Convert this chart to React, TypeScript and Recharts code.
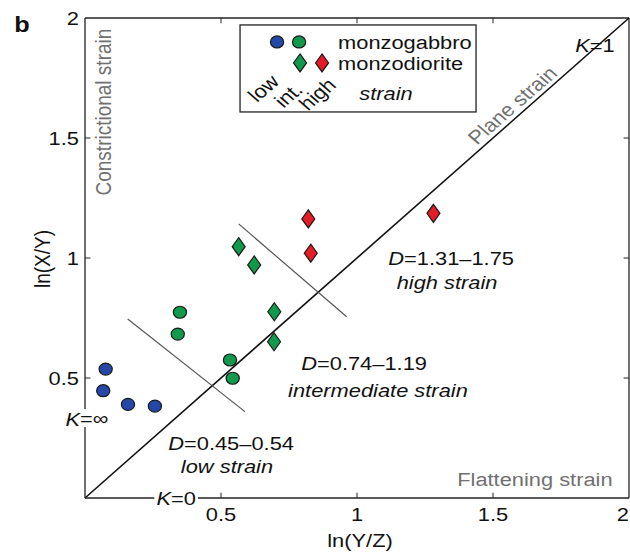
import React from "react";
import {
  ScatterChart,
  Scatter,
  XAxis,
  YAxis,
  ReferenceLine,
  ReferenceDot,
} from "recharts";

// ln(Y/Z) = x, ln(X/Y) = y
const lowGabbro = [
  { x: 0.076, y: 0.537 },
  { x: 0.067, y: 0.447 },
  { x: 0.158, y: 0.39 },
  { x: 0.257, y: 0.383 },
];
const intGabbro = [
  { x: 0.349, y: 0.774 },
  { x: 0.341, y: 0.683 },
  { x: 0.533, y: 0.575 },
  { x: 0.543, y: 0.499 },
];
const intDiorite = [
  { x: 0.565, y: 1.047 },
  { x: 0.622, y: 0.971 },
  { x: 0.696, y: 0.776 },
  { x: 0.695, y: 0.651 },
];
const highDiorite = [
  { x: 0.821, y: 1.163 },
  { x: 0.83, y: 1.02 },
  { x: 1.281, y: 1.186 },
];

const planeStrain = [
  { x: 0, y: 0 },
  { x: 2, y: 2 },
];
const lowCut = [
  { x: 0.157, y: 0.746 },
  { x: 0.588, y: 0.36 },
];
const highCut = [
  { x: 0.565, y: 1.142 },
  { x: 0.962, y: 0.755 },
];

const xTicks = [0.5, 1, 1.5, 2];
const yTicks = [0.5, 1, 1.5, 2];
const frameTicks = [0.5, 1, 1.5];

const BLUE = "#2447a8";
const GREEN = "#129a4c";
const RED = "#e41c26";
const GRAY = "#707070";
const FONT = "'Liberation Sans', Arial, Helvetica, sans-serif";
const SX = 1.15; // the figure is a bit wider than tall

type Note = {
  x: number;
  y: number;
  lead?: string;
  text: string;
  italic?: boolean;
  rot?: number;
  gray?: boolean;
  bg?: number;
  bold?: boolean;
  size?: number;
};

const notes: Note[] = [
  { x: 0.066, y: 1.608, text: "Constrictional strain", rot: -90, gray: true },
  { x: 1.57, y: 1.6375, text: "Plane strain", rot: -45, gray: true },
  { x: 1.875, y: 1.8875, lead: "K", text: "=1" },
  { x: 1.654, y: 0.079, text: "Flattening strain", gray: true },
  { x: 0.007, y: 0.333, lead: "K", text: "=\u221e", bg: 40 },
  { x: 0.335, y: 0, lead: "K", text: "=0", bg: 38 },
  { x: 0.537, y: 0.229, lead: "D", text: "=0.45\u20130.54" },
  { x: 0.522, y: 0.133, text: "low strain", italic: true },
  { x: 1.026, y: 0.5625, lead: "D", text: "=0.74\u20131.19" },
  { x: 1.077, y: 0.45, text: "intermediate strain", italic: true },
  { x: 1.346, y: 1.0, lead: "D", text: "=1.31\u20131.75" },
  { x: 1.331, y: 0.9, text: "high strain", italic: true },
  { x: -0.158, y: 0.996, text: "ln(X/Y)", rot: -90 },
  { x: 1.011, y: -0.175, text: "ln(Y/Z)" },
  { x: -0.232, y: 1.971, text: "b", bold: true, size: 22 },
];

function Txt({ x, y, rot = 0, fill = "#111", size = 19, anchor = "middle", italic = false, bold = false, bg = 0, children }: any) {
  return (
    <g transform={`translate(${x},${y}) scale(${SX},1) rotate(${rot})`}>
      {bg > 0 && <rect x={-bg / 2} y={-9} width={bg} height={18} fill="#fff" />}
      <text
        x={0}
        y={0}
        textAnchor={anchor}
        dominantBaseline="central"
        fontSize={size}
        fontFamily={FONT}
        fontStyle={italic ? "italic" : "normal"}
        fontWeight={bold ? "bold" : "normal"}
        fill={fill}
      >
        {children}
      </text>
    </g>
  );
}

const fmt = (v: number) => String(v);

function Dot({ cx, cy, fill }: any) {
  return <ellipse cx={cx} cy={cy} rx={6.6} ry={6} fill={fill} stroke="#1a1a1a" strokeWidth={1.2} />;
}

function Diamond({ cx, cy, fill }: any) {
  return (
    <path
      d={`M${cx},${cy - 9} L${cx + 6.5},${cy} L${cx},${cy + 9} L${cx - 6.5},${cy} Z`}
      fill={fill}
      stroke="#1a1a1a"
      strokeWidth={1.2}
    />
  );
}

function LegendBox({ cx, cy }: any) {
  const x = cx;
  const y = cy;
  return (
    <g>
      <rect x={x} y={y} width={236} height={87} fill="#fff" stroke="#222" strokeWidth={1.3} />
      <Dot cx={x + 37} cy={y + 17} fill={BLUE} />
      <Dot cx={x + 59} cy={y + 17} fill={GREEN} />
      <Diamond cx={x + 60} cy={y + 38} fill={GREEN} />
      <Diamond cx={x + 82} cy={y + 38} fill={RED} />
      <Txt x={x + 98} y={y + 17} anchor="start">monzogabbro</Txt>
      <Txt x={x + 98} y={y + 38} anchor="start">monzodiorite</Txt>
      <Txt x={x + 23} y={y + 63} rot={-45}>low</Txt>
      <Txt x={x + 48} y={y + 70} rot={-45}>int.</Txt>
      <Txt x={x + 77} y={y + 69} rot={-45}>high</Txt>
      <Txt x={x + 146} y={y + 68} italic>strain</Txt>
    </g>
  );
}

export default function App() {
  return (
    <div style={{ position: "absolute", left: 0, top: 0, background: "#fff" }}>
      <ScatterChart width={630} height={552} margin={{ top: 18, right: 1, bottom: 0, left: 0 }}>
        <XAxis
          type="number"
          dataKey="x"
          domain={[0, 2]}
          ticks={xTicks}
          interval={0}
          allowDataOverflow
          tickLine={false}
          tickSize={0}
          tickMargin={16}
          height={54}
          axisLine={{ stroke: "#222", strokeWidth: 1.3 }}
          tick={(p: any) => (
            <Txt x={p.x} y={p.y} anchor={p.payload.value === 2 ? "end" : "middle"}>
              {fmt(p.payload.value)}
            </Txt>
          )}
        />
        <YAxis
          type="number"
          dataKey="y"
          domain={[0, 2]}
          ticks={yTicks}
          interval={0}
          allowDataOverflow
          tickLine={false}
          tickSize={0}
          tickMargin={6}
          width={85}
          axisLine={{ stroke: "#222", strokeWidth: 1.3 }}
          tick={(p: any) => <Txt x={p.x} y={p.y} anchor="end">{fmt(p.payload.value)}</Txt>}
        />
        <ReferenceLine y={2} stroke="#222" strokeWidth={1.3} />
        <ReferenceLine x={2} stroke="#222" strokeWidth={1.3} />
        {frameTicks.map((t) => (
          <ReferenceLine key={"b" + t} segment={[{ x: t, y: 0 }, { x: t, y: 0.022 }]} stroke="#222" />
        ))}
        {frameTicks.map((t) => (
          <ReferenceLine key={"t" + t} segment={[{ x: t, y: 2 }, { x: t, y: 1.978 }]} stroke="#222" />
        ))}
        {frameTicks.map((t) => (
          <ReferenceLine key={"l" + t} segment={[{ x: 0, y: t }, { x: 0.02, y: t }]} stroke="#222" />
        ))}
        {frameTicks.map((t) => (
          <ReferenceLine key={"r" + t} segment={[{ x: 2, y: t }, { x: 1.98, y: t }]} stroke="#222" />
        ))}
        <ReferenceLine segment={planeStrain} stroke="#111" strokeWidth={1.6} />
        <ReferenceLine segment={lowCut} stroke="#555" strokeWidth={1.2} />
        <ReferenceLine segment={highCut} stroke="#555" strokeWidth={1.2} />
        <Scatter data={lowGabbro} isAnimationActive={false} shape={(p: any) => <Dot {...p} fill={BLUE} />} />
        <Scatter data={intGabbro} isAnimationActive={false} shape={(p: any) => <Dot {...p} fill={GREEN} />} />
        <Scatter data={intDiorite} isAnimationActive={false} shape={(p: any) => <Diamond {...p} fill={GREEN} />} />
        <Scatter data={highDiorite} isAnimationActive={false} shape={(p: any) => <Diamond {...p} fill={RED} />} />
        {notes.map((n, i) => (
          <ReferenceDot
            key={i}
            x={n.x}
            y={n.y}
            r={0}
            ifOverflow="visible"
            shape={(p: any) => (
              <Txt
                x={p.cx}
                y={p.cy}
                rot={n.rot || 0}
                fill={n.gray ? GRAY : "#111"}
                italic={n.italic}
                bold={n.bold}
                bg={n.bg || 0}
                size={n.size || 19}
              >
                {n.lead ? <tspan fontStyle="italic">{n.lead}</tspan> : null}
                {n.text}
              </Txt>
            )}
          />
        ))}
        <ReferenceDot x={0.57} y={1.971} r={0} ifOverflow="visible" shape={(p: any) => <LegendBox {...p} />} />
      </ScatterChart>
    </div>
  );
}
